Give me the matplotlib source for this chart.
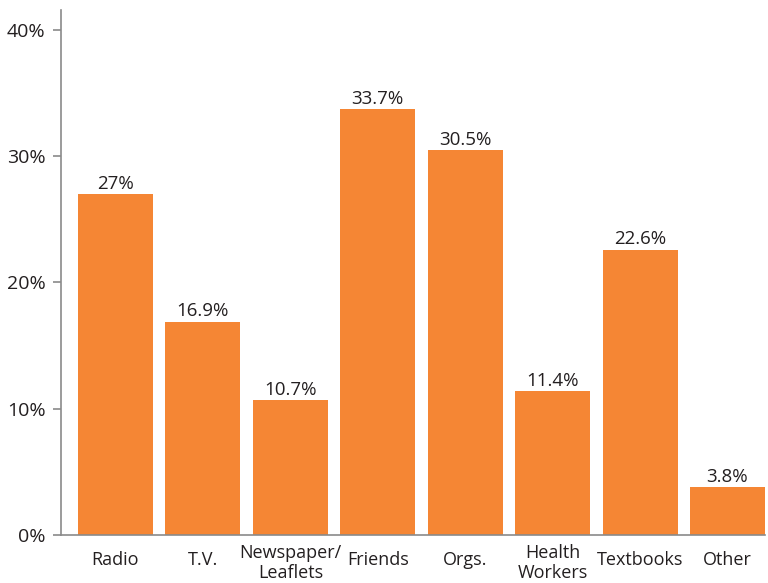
import matplotlib
matplotlib.use("Agg")
import matplotlib.pyplot as plt
from matplotlib.transforms import blended_transform_factory

categories = ["Radio", "T.V.", "Newspaper/\nLeaflets", "Friends", "Orgs.",
              "Health\nWorkers", "Textbooks", "Other"]
values = [27.0, 16.9, 10.7, 33.7, 30.5, 11.4, 22.6, 3.8]
value_labels = ["27%", "16.9%", "10.7%", "33.7%", "30.5%", "11.4%", "22.6%", "3.8%"]
yticks = [0, 10, 20, 30, 40]
ytick_labels = ["0%", "10%", "20%", "30%", "40%"]

plt.rcParams['font.family'] = ['Open Sans', 'DejaVu Sans']
text_color = "#231F20"
axis_color = "#8A8A8A"
bar_color = "#F58634"

fig = plt.figure(figsize=(7.68, 5.83), dpi=100)
ax = fig.add_axes([61/768, 48/583, 704/768, 525/583])

x = list(range(len(categories)))
ax.bar(x, values, width=0.858, color=bar_color)
ax.set_xlim(-0.623, 7.429)
ax.set_ylim(0, 41.58)

for xi, v, lab in zip(x, values, value_labels):
    ax.annotate(lab, (xi, v), xytext=(0, 1.0), textcoords="offset points",
                ha="center", va="bottom", fontsize=13.5, color=text_color)

ax.set_xticks([])
trans = blended_transform_factory(ax.transData, ax.transAxes)
for xi, c in zip(x, categories):
    yy = -0.0533 if "\n" in c else -0.0476
    ax.text(xi, yy, c, transform=trans, ha="center", va="center",
            fontsize=13, color=text_color, linespacing=1.1)

ax.set_yticks(yticks)
ax.set_yticklabels(ytick_labels, fontsize=14, color=text_color)
ax.tick_params(axis="y", length=6, width=1.2, color=axis_color, pad=5)

for s in ["top", "right"]:
    ax.spines[s].set_visible(False)
for s in ["left", "bottom"]:
    ax.spines[s].set_color(axis_color)
    ax.spines[s].set_linewidth(1.2)

fig.savefig("out.png", dpi=100)
